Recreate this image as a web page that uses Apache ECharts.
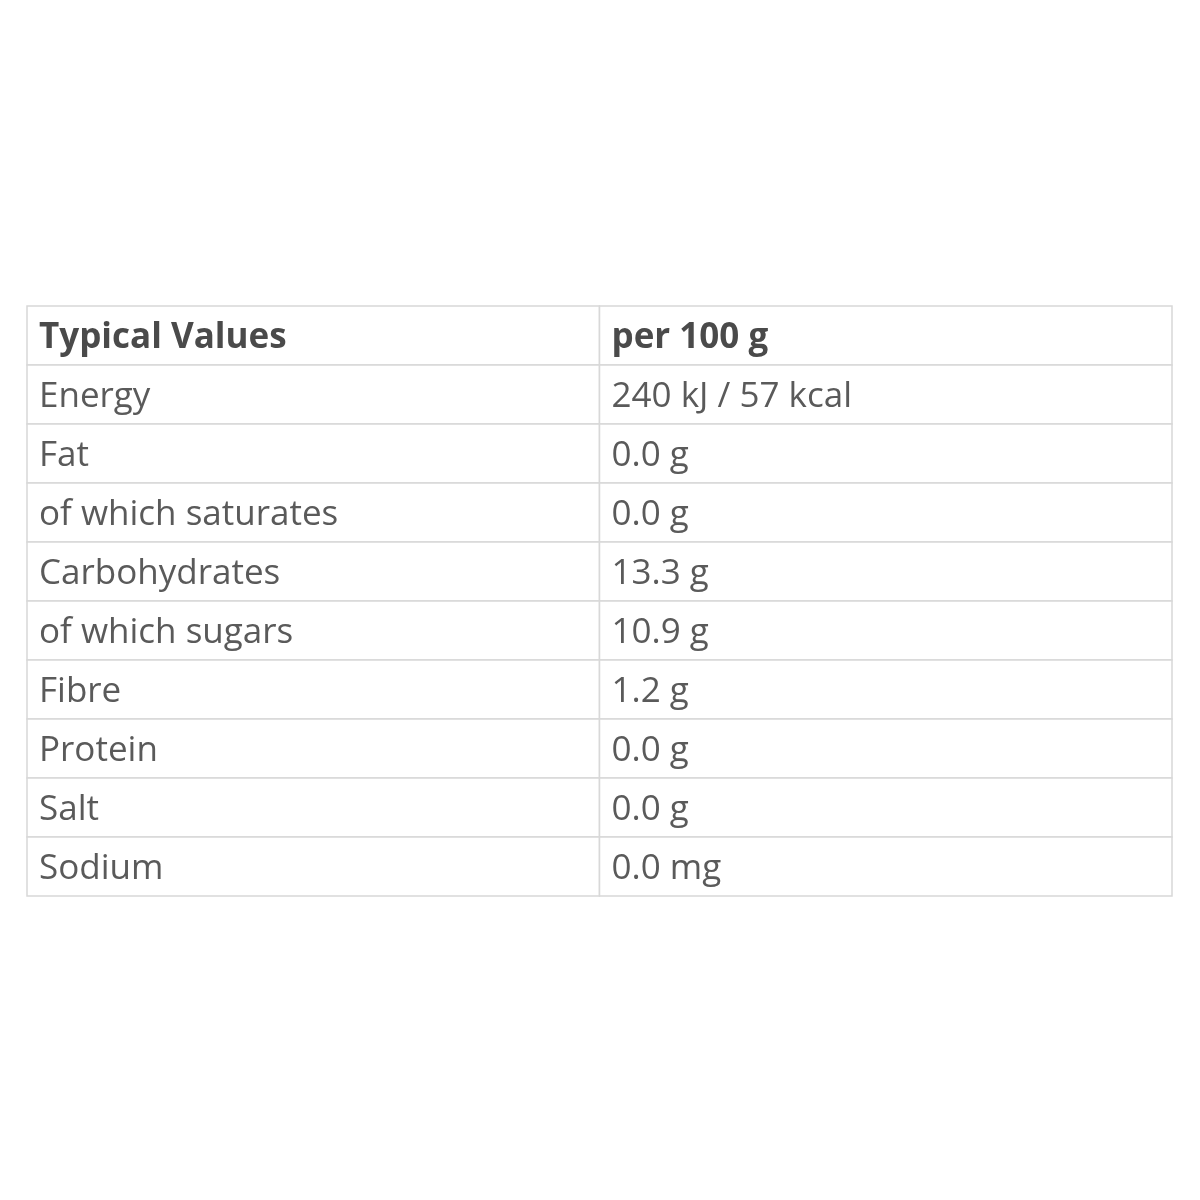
<!DOCTYPE html>
<html><head><meta charset="utf-8">
<script src="https://cdn.jsdelivr.net/npm/echarts@6/dist/echarts.min.js"></script>
<style>html,body{margin:0;padding:0;background:#fff}#c{width:1200px;height:1200px}</style>
</head><body><div id="c"></div>
<script>
const headers = ["Typical Values", "per 100 g"];
const nutrients = ["Energy","Fat","of which saturates","Carbohydrates","of which sugars","Fibre","Protein","Salt","Sodium"];
const amounts = ["240 kJ / 57 kcal","0.0 g","0.0 g","13.3 g","10.9 g","1.2 g","0.0 g","0.0 g","0.0 mg"];

const cells = [];
headers.forEach((h,i)=>cells.push([i,0,h,1]));
nutrients.forEach((n,r)=>{cells.push([0,r+1,n,0]);cells.push([1,r+1,amounts[r],0]);});

const chart = echarts.init(document.getElementById('c'));
chart.setOption({
  animation:false,
  backgroundColor:'#fff',
  grid:{left:27,right:28,top:306,bottom:304},
  xAxis:{type:'value',min:0,max:2,show:false},
  yAxis:{type:'value',min:0,max:headers.length-2+nutrients.length+1,inverse:true,show:false},
  series:[{
    type:'custom',
    data:cells,
    renderItem:function(params,api){
      const c=api.value(0), r=api.value(1);
      const p0=api.coord([c,r]), p1=api.coord([c+1,r+1]);
      const bold=api.value(3)===1;
      return {type:'group',children:[
        {type:'rect',shape:{x:p0[0],y:p0[1],width:p1[0]-p0[0],height:p1[1]-p0[1]},
         style:{fill:'#fff',stroke:'#d8d8d8',lineWidth:1.5}},
        {type:'text',style:{x:p0[0]+12,y:(p0[1]+p1[1])/2+3,text:cells[params.dataIndex][2],
          textVerticalAlign:'middle',verticalAlign:'middle',fill:bold?'#4a4a4a':'#5a5a5a',
          font:(bold?'bold ':'')+'35px "Open Sans", "Noto Sans", sans-serif'}}
      ]};
    }
  }]
});
</script></body></html>
